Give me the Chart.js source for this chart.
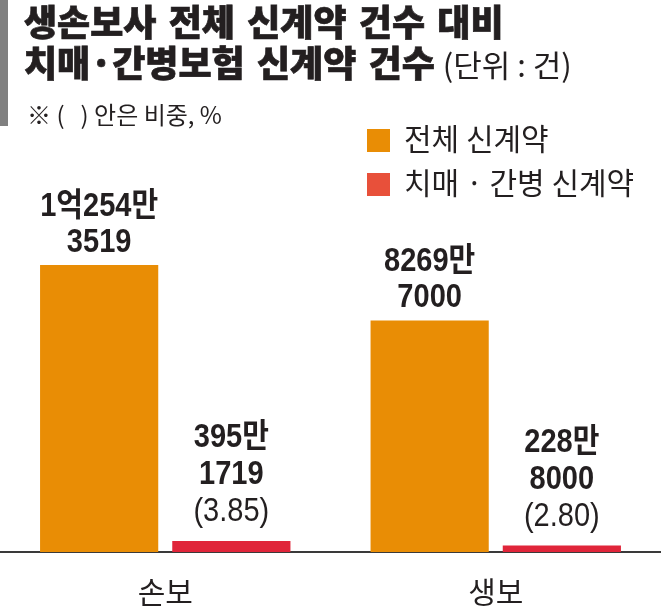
<!DOCTYPE html>
<html><head><meta charset="utf-8">
<script src="https://cdn.jsdelivr.net/npm/chart.js@4"></script>
<style>
html,body{margin:0;padding:0;background:#fff;}
#wrap{position:relative;width:661px;height:611px;overflow:hidden;background:#fff;}
#c{position:absolute;left:0;top:0;}
.side{position:absolute;left:0;top:0;width:8px;height:126px;background:#808080;}
.t{position:absolute;left:24px;font-family:"Noto Sans CJK KR";font-weight:900;font-size:36px;color:#231f20;white-space:nowrap;line-height:41px;word-spacing:4px;-webkit-text-stroke:0.7px #231f20;}
.unit{font-weight:400;font-size:31px;word-spacing:0;margin-left:8px;-webkit-text-stroke:0;}
.sub{position:absolute;left:27px;top:100px;font-family:"Noto Sans CJK KR";font-size:24px;line-height:28px;color:#231f20;white-space:nowrap;}
.lg{position:absolute;left:367px;width:23px;height:23px;}
.lt{position:absolute;left:404px;font-family:"Noto Sans CJK KR";font-size:30px;line-height:36px;color:#231f20;white-space:nowrap;}
</style></head>
<body>
<div id="wrap">
<canvas id="c" width="661" height="611"></canvas>
<div class="side"></div>
<div class="t" style="top:0px">생손보사 전체 신계약 건수 대비</div>
<div class="t" style="top:41px">치매·간병보험 신계약 건수<span class="unit">(단위 : 건)</span></div>
<div class="sub">※ (&nbsp;&nbsp;&nbsp;) 안은 비중, %</div>
<div id="legend"></div>
</div>
<script>
const categories = ['손보', '생보'];
const seriesNames = ['전체 신계약', '치매 · 간병 신계약'];
const totalContracts = [102543519, 82697000];
const careContracts = [3951719, 2288000];
const careShare = ['3.85', '2.80'];

const barColors = ['#E98D05', '#E0253A'];
const legendColors = ['#E98D05', '#E8503A'];

// legend
const lgEl = document.getElementById('legend');
seriesNames.forEach((n, i) => {
  const sq = document.createElement('div');
  sq.className = 'lg';
  sq.style.top = (129 + i * 44) + 'px';
  sq.style.background = legendColors[i];
  lgEl.appendChild(sq);
  const tx = document.createElement('div');
  tx.className = 'lt';
  tx.style.top = (119 + i * 44) + 'px';
  tx.textContent = n;
  lgEl.appendChild(tx);
});

function koreanLines(n) {
  const eok = Math.floor(n / 1e8);
  const man = Math.floor((n % 1e8) / 1e4);
  const rest = n % 1e4;
  const first = (eok > 0 ? eok + '억' : '') + man + '만';
  return [first, String(rest).padStart(4, '0')];
}

const labelPlugin = {
  id: 'barLabels',
  afterDatasetsDraw(chart) {
    const ctx = chart.ctx;
    chart.data.datasets.forEach((ds, di) => {
      const meta = chart.getDatasetMeta(di);
      meta.data.forEach((bar, i) => {
        const lines = koreanLines(ds.data[i]).map(t => ({t, bold: true}));
        if (di === 1) lines.push({t: '(' + careShare[i] + ')', bold: false});
        const gap = di === 0 ? 13 : 20;
        const step = di === 0 ? 36 : 37;
        let y = bar.y - gap;
        ctx.save();
        ctx.fillStyle = '#231f20';
        ctx.textAlign = 'center';
        ctx.textBaseline = 'alphabetic';
        for (let k = lines.length - 1; k >= 0; k--) {
          const L = lines[k];
          ctx.font = (L.bold ? 'bold ' : '') + '33px "Liberation Sans", "Noto Sans CJK KR"';
          ctx.save();
          ctx.translate(bar.x, y);
          ctx.scale(0.88, 1);
          ctx.fillText(L.t, 0, 0);
          ctx.restore();
          y -= step;
        }
        ctx.restore();
      });
    });
  }
};

new Chart(document.getElementById('c'), {
  type: 'bar',
  data: {
    labels: categories,
    datasets: [
      {label: seriesNames[0], data: totalContracts, backgroundColor: barColors[0], categoryPercentage: 0.8, barPercentage: 0.894},
      {label: seriesNames[1], data: careContracts, backgroundColor: barColors[1], categoryPercentage: 0.8, barPercentage: 0.894}
    ]
  },
  options: {
    responsive: false,
    animation: false,
    devicePixelRatio: 1,
    layout: {padding: {top: 150, left: 0, right: 0, bottom: 0}},
    plugins: {legend: {display: false}, tooltip: {enabled: false}},
    scales: {
      x: {
        grid: {display: false, drawTicks: false},
        border: {display: true, color: '#3a3a3a', width: 2},
        ticks: {font: {family: '"Noto Sans CJK KR"', size: 30}, color: '#231f20', padding: 22},
        afterFit(s) { s.height = 59; }
      },
      y: {display: false, min: 0, max: 143600000}
    }
  },
  plugins: [labelPlugin]
});
</script>
</body></html>
